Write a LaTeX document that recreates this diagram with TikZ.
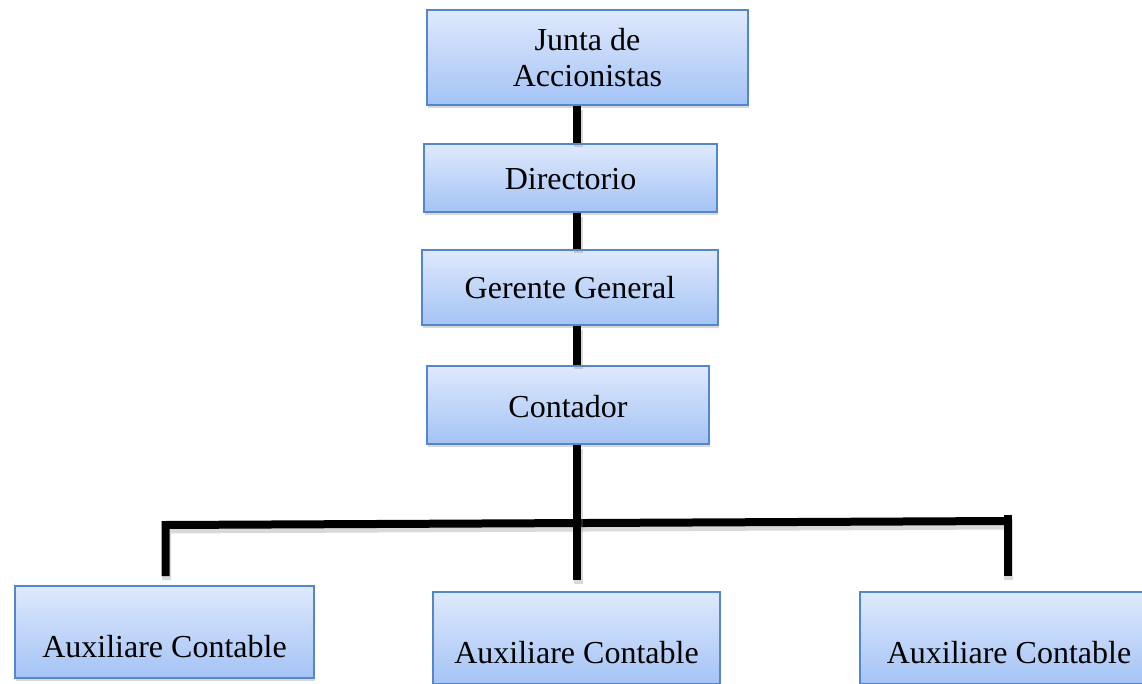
\documentclass[tikz,border=0pt]{standalone}
\usepackage{fontspec}
\setmainfont{Liberation Serif}
\usetikzlibrary{shadows}
\definecolor{boxtop}{RGB}{223,233,252}
\definecolor{boxbot}{RGB}{164,195,245}
\definecolor{boxline}{RGB}{84,134,204}
\begin{document}
\begin{tikzpicture}[x=1pt,y=-1pt,
  org/.style={draw=boxline, line width=1.3pt, top color=boxtop, bottom color=boxbot,
    inner sep=0pt, font=\fontsize{32}{36.8}\selectfont,
    drop shadow={shadow xshift=1pt, shadow yshift=-3pt, opacity=0.3}},
  conn/.style={line width=8pt, black, line join=miter,
    preaction={draw=gray, opacity=0.3, line width=9pt, transform canvas={shift={(1pt,-4pt)}}}}]
\useasboundingbox (0,0) rectangle (1142,684);
% boxes
\node[org, minimum width=321pt, minimum height=95pt, align=center] (junta) at (587.5,57.5) {Junta de\\Accionistas};
\node[org, minimum width=293pt, text height=46pt, text depth=22pt] (dir) at (570.5,178) {Directorio};
\node[org, minimum width=296pt, text height=49pt, text depth=26pt] (ger) at (570,287.5) {Gerente General};
\node[org, minimum width=282pt, text height=51pt, text depth=27pt] (cont) at (568,405) {Contador};
\node[org, minimum width=299pt, text height=71pt, text depth=21pt] (aux1) at (164.5,632) {Auxiliare Contable};
\node[org, minimum width=287pt, text height=71pt, text depth=21pt] (aux2) at (576.5,638) {Auxiliare Contable};
\node[org, minimum width=298pt, text height=71pt, text depth=21pt] (aux3) at (1009,638) {Auxiliare Contable};
% coordinates
\coordinate (tx) at (577,0);
\coordinate (m) at (577,580);
\coordinate (lc) at (165.5,525);
\coordinate (lend) at (165.5,576);
\coordinate (rc) at (1007.5,521);
\coordinate (rtop) at (1007.5,515);
\coordinate (rend) at (1007.5,576);
% connectors
\draw[conn] (junta.south -| tx) -- (dir.north -| tx);
\draw[conn] (dir.south -| tx) -- (ger.north -| tx);
\draw[conn] (ger.south -| tx) -- (cont.north -| tx);
\draw[conn] (lend) -- (lc) -- (rc);
\draw[conn] (rtop) -- (rend);
\draw[conn] (cont.south -| tx) -- (m);
\end{tikzpicture}
\end{document}
